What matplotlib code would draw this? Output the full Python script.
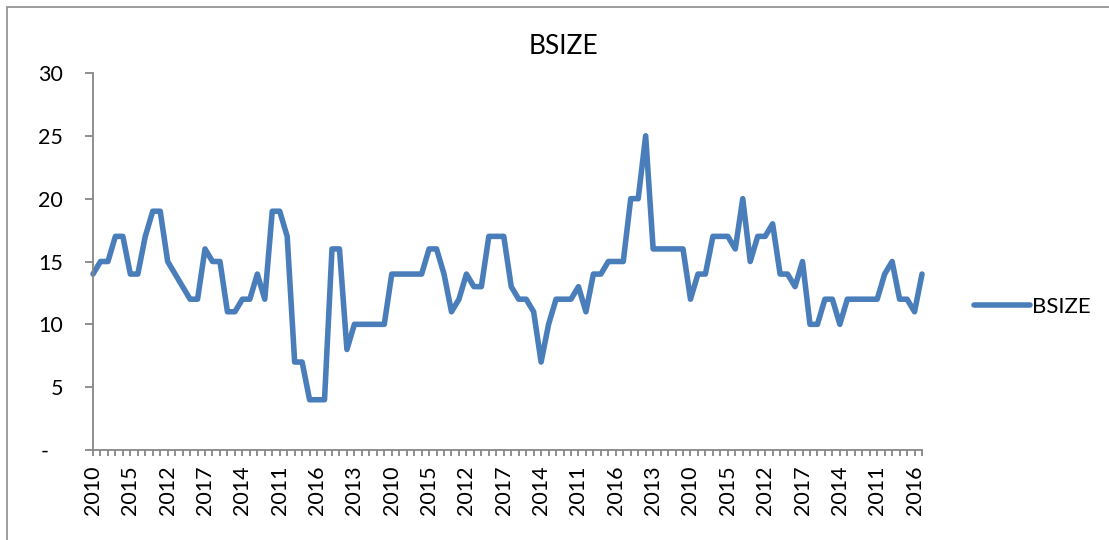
import matplotlib
matplotlib.use("Agg")
import matplotlib.pyplot as plt
import matplotlib.transforms as mtransforms
from matplotlib.patches import Rectangle

plt.rcParams['font.family'] = ['Lato', 'DejaVu Sans']

# 14 firms x 8 years (2010-2017), categories as they appear on the axis
years = [str(y) for y in range(2010, 2018)] * 14

bsize = [14, 15, 15, 17, 17, 14, 14, 17, 19, 19, 15, 14, 13, 12, 12, 16,
         15, 15, 11, 11, 12, 12, 14, 12, 19, 19, 17, 7, 7, 4, 4, 4,
         16, 16, 8, 10, 10, 10, 10, 10, 14, 14, 14, 14, 14, 16, 16, 14,
         11, 12, 14, 13, 13, 17, 17, 17, 13, 12, 12, 11, 7, 10, 12, 12,
         12, 13, 11, 14, 14, 15, 15, 15, 20, 20, 25, 16, 16, 16, 16, 16,
         12, 14, 14, 17, 17, 17, 16, 20, 15, 17, 17, 18, 14, 14, 13, 15,
         10, 10, 12, 12, 10, 12, 12, 12, 12, 12, 14, 15, 12, 12, 11, 14]

yticks = [0, 5, 10, 15, 20, 25, 30]
ytick_labels = ['-', '5', '10', '15', '20', '25', '30']

W, H = 1109, 540
fig = plt.figure(figsize=(W / 100, H / 100), dpi=100)
ax = fig.add_axes([93 / W, 1 - 450 / H, 829 / W, 377 / H])

x = list(range(len(bsize)))
ax.plot(x, bsize, color='#4A7EBB', lw=4, label='BSIZE',
        solid_joinstyle='round', solid_capstyle='round', clip_on=False)

ax.set_xlim(0, len(bsize) - 1)
ax.set_ylim(0, 30)

axis_col = '#868686'
for s in ['top', 'right']:
    ax.spines[s].set_visible(False)
for s in ['left', 'bottom']:
    ax.spines[s].set_color(axis_col)
    ax.spines[s].set_linewidth(1.3)

ax.set_yticks(yticks)
ax.set_yticklabels(ytick_labels, fontsize=15.5)
ax.tick_params(axis='y', direction='out', length=5.5, width=1.3,
               color=axis_col, pad=16)

ax.set_xticks(x)
ax.set_xticklabels([y if i % 5 == 0 else '' for i, y in enumerate(years)],
                   rotation=90, fontsize=15.5)
ax.tick_params(axis='x', direction='out', length=4.3, width=1.3,
               color=axis_col, pad=7)

# dash for zero sits further left, like the accounting number format
zero_lab = ax.get_yticklabels()[0]
zero_lab.set_transform(zero_lab.get_transform() +
                       mtransforms.ScaledTranslation(-15 / 100, 0, fig.dpi_scale_trans))

fig.text(563 / W, 1 - 47 / H, 'BSIZE', ha='center', va='center', fontsize=19)

fig.legend(loc='center left', bbox_to_anchor=(974 / W, 1 - 307 / H),
           frameon=False, fontsize=16, handlelength=2.5, handletextpad=0.1,
           borderpad=0, borderaxespad=0)

fig.patches.append(Rectangle((7 / W, -0.1), 1.2, 1.1 - 7 / H,
                             transform=fig.transFigure, fill=False,
                             edgecolor='#8c8c8c', lw=1.2))

fig.savefig('out.png', dpi=100)
